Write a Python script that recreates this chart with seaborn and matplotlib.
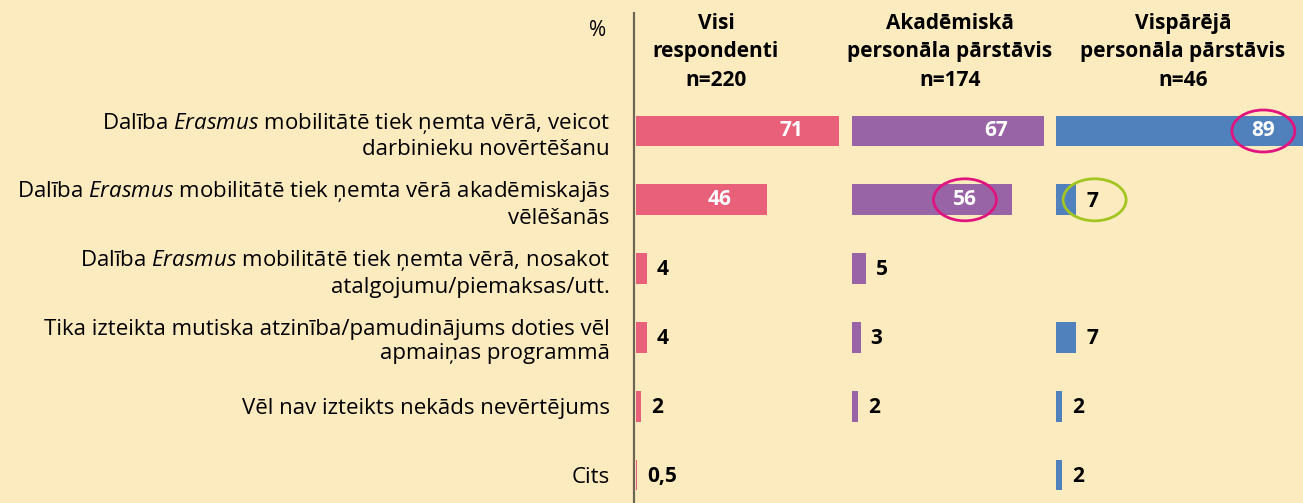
import numpy as np
import pandas as pd
import matplotlib
matplotlib.use("Agg")
import matplotlib.pyplot as plt
import seaborn as sns
from matplotlib.lines import Line2D
from matplotlib.patches import Ellipse

# ==========================================================
# Dati
# ==========================================================
kategorijas = [
    "Dalība $\\mathit{Erasmus}$ mobilitātē tiek ņemta vērā, veicot\ndarbinieku novērtēšanu",
    "Dalība $\\mathit{Erasmus}$ mobilitātē tiek ņemta vērā akadēmiskajās\nvēlēšanās",
    "Dalība $\\mathit{Erasmus}$ mobilitātē tiek ņemta vērā, nosakot\natalgojumu/piemaksas/utt.",
    "Tika izteikta mutiska atzinība/pamudinājums doties vēl\napmaiņas programmā",
    "Vēl nav izteikts nekāds nevērtējums",
    "Cits",
]
visi = [71, 46, 4, 4, 2, 0.5]
akademiska = [67, 56, 5, 3, 2, np.nan]
visparejie = [89, 7, np.nan, 7, 2, 2]

virsraksti = [
    "Visi\nrespondenti\nn=220",
    "Akadēmiskā\npersonāla pārstāvis\nn=174",
    "Vispārējā\npersonāla pārstāvis\nn=46",
]
krasas = ["#E8607A", "#9864A6", "#5081BD"]
# izceltās vērtības: (panelis, rinda, krāsa)
izceltie = [(2, 0, "#E0147F"), (1, 1, "#E0147F"), (2, 1, "#A3C520")]

# ==========================================================
# Izkārtojums
# ==========================================================
W, H = 1303, 503
FON = "#FDEBC0"
PX = 2.86  # pikseļi uz 1 %
paneli_px = [(635.5, 852), (852, 1056), (1056, 1303)]
virsr_x = [716, 950, 1183]
rinda0, solis = 131, 68.8

plt.rcParams['font.family'] = ['Open Sans', 'DejaVu Sans']
plt.rcParams['mathtext.fontset'] = 'custom'
plt.rcParams['mathtext.rm'] = 'Open Sans'
plt.rcParams['mathtext.it'] = 'Open Sans:italic'

fig = plt.figure(figsize=(W / 100, H / 100), dpi=100)
fig.patch.set_facecolor(FON)

augsa = rinda0 - solis * 0.5
y_apaksa = (H - rinda0) / solis

dati_list = [visi, akademiska, visparejie]
asis = []
for i, (x0, x1) in enumerate(paneli_px):
    ax = fig.add_axes([x0 / W, 0, (x1 - x0) / W, (H - augsa) / H])
    ax.set_facecolor("none")
    df = pd.DataFrame({"kat": kategorijas, "v": dati_list[i]}).dropna()
    sns.barplot(data=df, x="v", y="kat", order=kategorijas, color=krasas[i],
                width=0.45, saturation=1, ax=ax, orient="h")
    ax.set_xlim(0, (x1 - x0) / PX)
    ax.set_ylim(y_apaksa, -0.5)
    ax.set_xlabel("")
    ax.set_ylabel("")
    ax.set_xticks([])
    for s in ax.spines.values():
        s.set_visible(False)
    ax.tick_params(axis="y", length=0, pad=18.5, labelsize=16)
    if i == 0:
        ax.set_yticks(range(len(kategorijas)))
        ax.set_yticklabels(kategorijas, ha="right", linespacing=1.22)
    else:
        ax.set_yticks([])

    for r, v in enumerate(dati_list[i]):
        if np.isnan(v):
            continue
        teksts = f"{v:g}".replace(".", ",")
        if v > 20:
            ax.text(v - 16.5, r, teksts, ha="center", va="center", color="white",
                    fontsize=15, fontweight="bold", clip_on=False)
        else:
            ax.text(v + 3.5, r + 0.02, teksts, ha="left", va="center", color="black",
                    fontsize=15, fontweight="bold", clip_on=False)
    asis.append(ax)

# izcēlumu elipses
for p, r, c in izceltie:
    v = dati_list[p][r]
    cx = v - 16.5 if v > 20 else v + 6.5
    asis[p].add_patch(Ellipse((cx, r), width=63 / PX, height=42 / solis,
                              fill=False, ec=c, lw=2, clip_on=False))

# virsraksti
for x, t in zip(virsr_x, virsraksti):
    fig.text(x / W, 1 - 52 / H, t, ha="center", va="center", fontsize=15,
             fontweight="bold", linespacing=1.45)
fig.text(598 / W, 1 - 31 / H, "%", ha="center", va="center", fontsize=15)

# vertikālā līnija
fig.add_artist(Line2D([634.3 / W, 634.3 / W], [0, 1 - 13 / H], color="#6E6654",
                      lw=1.6, transform=fig.transFigure))

fig.savefig("out.png", dpi=100, facecolor=FON)
